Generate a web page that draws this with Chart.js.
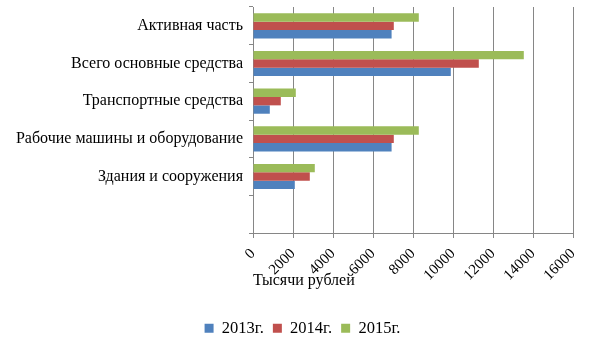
<!DOCTYPE html>
<html>
<head>
<meta charset="utf-8">
<script src="https://cdn.jsdelivr.net/npm/chart.js@4/dist/chart.umd.min.js"></script>
<style>
  html, body { margin: 0; padding: 0; background: #fff; }
  #wrap { width: 605px; height: 340px; }
</style>
</head>
<body>
<div id="wrap"><canvas id="c" width="605" height="340"></canvas></div>
<script>
// Основные средства по годам, тыс. руб.
const categories = [
  "Активная часть",
  "Всего основные средства",
  "Транспортные средства",
  "Рабочие машины и оборудование",
  "Здания и сооружения",
  ""
];
const years = ["2013г.", "2014г.", "2015г."];
const values2013 = [6930, 9890, 840, 6930, 2090, null];
const values2014 = [7040, 11290, 1390, 7040, 2840, null];
const values2015 = [8290, 13540, 2140, 8290, 3090, null];
const xTicks = [0, 2000, 4000, 6000, 8000, 10000, 12000, 14000, 16000];
const axisTitle = "Тысячи рублей";

const colors = ["#4F81BD", "#C0504D", "#9BBB59"];
const series = [values2013, values2014, values2015];

// 2015 is drawn at the top of each group, 2013 at the bottom
const datasets = years.map((y, i) => ({
  label: y,
  data: series[i],
  backgroundColor: colors[i],
  borderWidth: 0,
  categoryPercentage: 0.667,
  barPercentage: 1.0
})).reverse();

const serif = "'Liberation Serif', 'DejaVu Serif', serif";
const gridColor = "#868686";

new Chart(document.getElementById("c"), {
  type: "bar",
  data: { labels: categories, datasets },
  options: {
    indexAxis: "y",
    responsive: false,
    animation: false,
    layout: { padding: { left: 0, right: 0, top: 7, bottom: 0 } },
    plugins: {
      legend: {
        position: "bottom",
        reverse: true,
        maxHeight: 29,
        labels: {
          boxWidth: 9,
          boxHeight: 9,
          padding: 9,
          color: "#000",
          font: { family: serif, size: 16.5 }
        }
      },
      tooltip: { enabled: false }
    },
    scales: {
      x: {
        min: xTicks[0],
        max: xTicks[xTicks.length - 1],
        afterBuildTicks: (s) => { s.ticks = xTicks.map(v => ({ value: v })); },
        afterFit: (s) => { s.height = 78; s.paddingRight = 32; },
        ticks: {
          minRotation: 45,
          maxRotation: 45,
          color: "#000",
          padding: 7,
          font: { family: serif, size: 15 },
          callback: (v) => String(v)
        },
        grid: { color: gridColor, lineWidth: 1, tickLength: 5 },
        border: { color: gridColor },
        title: {
          display: true,
          text: axisTitle,
          align: "start",
          color: "#000",
          font: { family: serif, size: 16 },
          padding: { top: 0, bottom: 21 }
        }
      },
      y: {
        afterFit: (s) => { s.width = 253; s.paddingTop = 0; s.paddingBottom = 0; },
        ticks: {
          color: "#000",
          padding: 6,
          font: { family: serif, size: 16 }
        },
        grid: { display: true, drawOnChartArea: false, color: gridColor, tickLength: 4, offset: true },
        border: { color: gridColor }
      }
    }
  }
});
</script>
</body>
</html>
